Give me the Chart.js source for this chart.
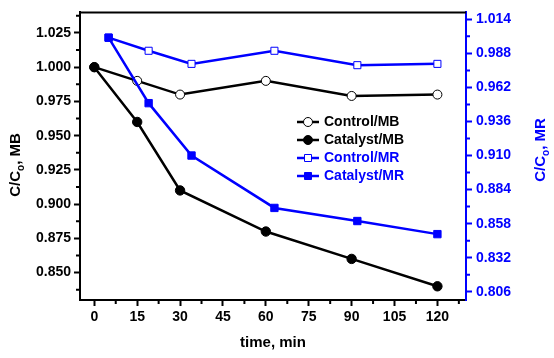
<!DOCTYPE html>
<html>
<head>
<meta charset="utf-8">
<script src="https://cdn.jsdelivr.net/npm/chart.js@4.4.1/dist/chart.umd.min.js"></script>
<style>
  html, body { margin: 0; padding: 0; background: #fff; }
  #wrap { width: 554px; height: 358px; }
</style>
</head>
<body>
<div id="wrap"><canvas id="grafic" width="554" height="358"></canvas></div>
<script>
// temps (min) de cada mesura
const tempsMB = [0, 15, 30, 60, 90, 120];
const tempsMR = [5, 19, 34, 63, 92, 120];

// C/Co
const controlMB = [1.000, 0.990, 0.980, 0.990, 0.979, 0.980];
const catalystMB = [1.000, 0.960, 0.910, 0.880, 0.860, 0.840];
const controlMR = [1.000, 0.990, 0.980, 0.990, 0.979, 0.980];
const catalystMR = [1.000, 0.950, 0.910, 0.870, 0.860, 0.850];

const ticksX = [0, 15, 30, 45, 60, 75, 90, 105, 120];
const ticksMB = [0.850, 0.875, 0.900, 0.925, 0.950, 0.975, 1.000, 1.025];
const ticksMR = [0.806, 0.832, 0.858, 0.884, 0.910, 0.936, 0.962, 0.988, 1.014];

const NEGRE = '#000000';
const BLAU = '#0000ff';
const FONT = '"Liberation Sans", Arial, sans-serif';

const punts = (xs, ys) => xs.map((x, i) => ({ x: x, y: ys[i] }));

// marques petites a mig camí entre les grans
const menors = (t, extra) => {
    const pas = t[1] - t[0];
    const out = t.slice(0, -1).map((v, i) => (v + t[i + 1]) / 2);
    if (extra) out.unshift(t[0] - pas / 2), out.push(t[t.length - 1] + pas / 2);
    return out;
};

// icona de llegenda: línia + marcador
function iconaLlegenda(color, ple, forma) {
    const c = document.createElement('canvas');
    c.width = 22; c.height = 12;
    const g = c.getContext('2d');
    g.strokeStyle = color; g.lineWidth = 2.5;
    g.beginPath(); g.moveTo(0, 6); g.lineTo(22, 6); g.stroke();
    g.fillStyle = ple ? color : '#fff';
    g.lineWidth = 1;
    g.beginPath();
    if (forma === 'circle') g.arc(11, 6, 4.5, 0, Math.PI * 2);
    else g.rect(7.5, 2.5, 7, 7);
    g.fill(); g.stroke();
    return c;
}

function titolY(ctx, cx, cy, cua, color, mida) {
    ctx.save();
    ctx.translate(cx, cy);
    ctx.rotate(-Math.PI / 2);
    ctx.fillStyle = color;
    ctx.textBaseline = 'alphabetic';
    ctx.textAlign = 'left';
    const gran = 'bold ' + mida + 'px ' + FONT;
    const petit = 'bold ' + Math.round(mida * 0.68) + 'px ' + FONT;
    ctx.font = gran;
    const w1 = ctx.measureText('C/C').width;
    const w3 = ctx.measureText(cua).width;
    ctx.font = petit;
    const w2 = ctx.measureText('o').width;
    let x = -(w1 + w2 + w3) / 2;
    const base = mida * 0.36;
    ctx.font = gran; ctx.fillText('C/C', x, base); x += w1;
    ctx.font = petit; ctx.fillText('o', x, base + mida * 0.25); x += w2;
    ctx.font = gran; ctx.fillText(cua, x, base);
    ctx.restore();
}

const marc = {
    id: 'marc',
    afterLayout(chart) {
        // llegenda dins l'àrea del gràfic
        const l = chart.legend;
        if (!l) return;
        l.left = 295; l.top = 111;
        l.right = l.left + l.width;
        l.bottom = l.top + l.height;
    },
    afterDraw(chart) {
        const ctx = chart.ctx;
        const { left, right, top, bottom } = chart.chartArea;
        const sx = chart.scales.x, sy = chart.scales.y, sy2 = chart.scales.y2;
        ctx.save();
        ctx.lineWidth = 2;
        ctx.strokeStyle = NEGRE;
        ctx.beginPath(); ctx.moveTo(left - 1, top); ctx.lineTo(right, top); ctx.stroke();

        ctx.beginPath();
        menors(ticksX, true).forEach(v => {
            if (v < sx.min || v > sx.max) return;
            const p = sx.getPixelForValue(v);
            ctx.moveTo(p, bottom); ctx.lineTo(p, bottom + 4);
        });
        menors(ticksMB, true).forEach(v => {
            if (v < sy.min || v > sy.max) return;
            const p = sy.getPixelForValue(v);
            ctx.moveTo(left, p); ctx.lineTo(left - 4, p);
        });
        ctx.stroke();

        ctx.strokeStyle = BLAU;
        ctx.beginPath();
        menors(ticksMR, false).forEach(v => {
            const p = sy2.getPixelForValue(v);
            ctx.moveTo(right, p); ctx.lineTo(right + 4, p);
        });
        ctx.stroke();
        ctx.restore();

        titolY(ctx, 15, 165, ', MB', NEGRE, 15);
        titolY(ctx, 540, 150, ', MR', BLAU, 15);
    }
};

const ctx = document.getElementById('grafic');

new Chart(ctx, {
    type: 'line',
    data: {
        datasets: [
            {
                label: 'Control/MB',
                data: punts(tempsMB, controlMB),
                yAxisID: 'y',
                borderColor: NEGRE, borderWidth: 2.5,
                pointStyle: 'circle', pointRadius: 4.5,
                pointBackgroundColor: '#fff', pointBorderColor: NEGRE, pointBorderWidth: 1,
                icona: iconaLlegenda(NEGRE, false, 'circle'),
                order: 1
            },
            {
                label: 'Catalyst/MB',
                data: punts(tempsMB, catalystMB),
                yAxisID: 'y',
                borderColor: NEGRE, borderWidth: 2.5,
                pointStyle: 'circle', pointRadius: 4.7,
                pointBackgroundColor: NEGRE, pointBorderColor: NEGRE, pointBorderWidth: 1,
                icona: iconaLlegenda(NEGRE, true, 'circle'),
                order: 0
            },
            {
                label: 'Control/MR',
                data: punts(tempsMR, controlMR),
                yAxisID: 'y2',
                borderColor: BLAU, borderWidth: 2.5,
                pointStyle: 'rect', pointRadius: 5,
                pointBackgroundColor: '#fff', pointBorderColor: BLAU, pointBorderWidth: 1,
                icona: iconaLlegenda(BLAU, false, 'rect'),
                order: 1
            },
            {
                label: 'Catalyst/MR',
                data: punts(tempsMR, catalystMR),
                yAxisID: 'y2',
                borderColor: BLAU, borderWidth: 2.5,
                pointStyle: 'rect', pointRadius: 5.2,
                pointBackgroundColor: BLAU, pointBorderColor: BLAU, pointBorderWidth: 1,
                icona: iconaLlegenda(BLAU, true, 'rect'),
                order: 0
            }
        ]
    },
    options: {
        responsive: false,
        animation: false,
        layout: { padding: { top: 12, left: 0, right: 0, bottom: 0 } },
        plugins: {
            tooltip: { enabled: false },
            legend: {
                position: 'chartArea',
                align: 'start',
                labels: {
                    usePointStyle: true,
                    pointStyleWidth: 18,
                    padding: 4,
                    font: { family: FONT, size: 14, weight: 'bold' },
                    generateLabels: (chart) => chart.data.datasets.map((d, i) => ({
                        text: d.label,
                        fontColor: d.borderColor,
                        pointStyle: d.icona,
                        fillStyle: d.borderColor,
                        strokeStyle: d.borderColor,
                        lineWidth: 0,
                        hidden: false,
                        datasetIndex: i
                    }))
                }
            }
        },
        scales: {
            x: {
                type: 'linear',
                min: -5,
                max: 130,
                afterBuildTicks: s => { s.ticks = ticksX.map(v => ({ value: v })); },
                afterFit: s => { s.height = 58; },
                ticks: {
                    color: NEGRE,
                    padding: 3,
                    maxRotation: 0,
                    font: { family: FONT, size: 14, weight: 'bold' }
                },
                grid: { drawOnChartArea: false, drawTicks: true, tickLength: 6, tickWidth: 2, tickColor: NEGRE },
                border: { display: true, color: NEGRE, width: 2 },
                title: {
                    display: true,
                    text: 'time, min',
                    color: NEGRE,
                    padding: { top: 0, bottom: 6 },
                    font: { family: FONT, size: 15, weight: 'bold' }
                }
            },
            y: {
                position: 'left',
                min: 0.83,
                max: 1.04,
                afterBuildTicks: s => { s.ticks = ticksMB.map(v => ({ value: v })); },
                afterFit: s => { s.width = 80; },
                ticks: {
                    color: NEGRE,
                    padding: 3,
                    font: { family: FONT, size: 14, weight: 'bold' },
                    callback: v => v.toFixed(3)
                },
                grid: { drawOnChartArea: false, drawTicks: true, tickLength: 6, tickWidth: 2, tickColor: NEGRE },
                border: { display: true, color: NEGRE, width: 2 }
            },
            y2: {
                position: 'right',
                min: 0.7997,
                max: 1.0193,
                afterBuildTicks: s => { s.ticks = ticksMR.map(v => ({ value: v })); },
                afterFit: s => { s.width = 88; },
                ticks: {
                    color: BLAU,
                    padding: 4,
                    font: { family: FONT, size: 14, weight: 'bold' },
                    callback: v => v.toFixed(3)
                },
                grid: { drawOnChartArea: false, drawTicks: true, tickLength: 6, tickWidth: 2, tickColor: BLAU },
                border: { display: true, color: BLAU, width: 2 }
            }
        }
    },
    plugins: [marc]
});
</script>
</body>
</html>
